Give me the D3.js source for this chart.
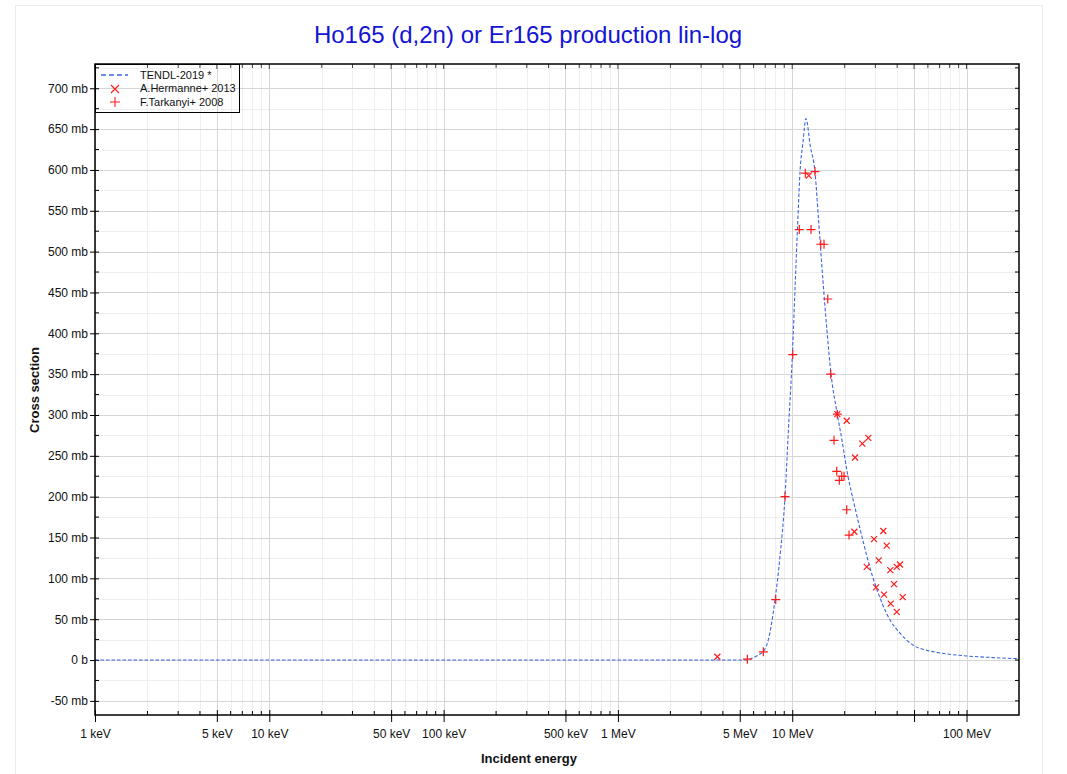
<!DOCTYPE html>
<html>
<head>
<meta charset="utf-8">
<script src="https://cdn.jsdelivr.net/npm/d3@7/dist/d3.min.js"></script>
<style>
  body { margin: 0; background: #fff; }
  svg { display: block; font-family: "Liberation Sans", Arial, sans-serif; }
</style>
</head>
<body>
<svg id="chart" width="1067" height="774"></svg>
<script>
// ---- Data (energies in MeV, cross sections in mb) ----
const tendlE  = [0.001, 1, 5.3, 5.6, 6.0, 6.5, 6.8, 7.3, 7.97, 8.5, 9.09, 9.5, 10.0, 10.4, 10.8, 11.1, 11.5, 12.0, 12.7, 13.5, 14.2, 15.0, 15.8, 16.7, 18.1, 19.3, 20.6, 23.0, 25.4, 28.0, 30.3, 33.0, 36.4, 41.5, 49.5, 59, 74, 100, 142, 200];
const tendlXS = [0, 0, 0, 0.5, 3, 7, 10, 25, 74, 126, 200, 280, 370, 460, 545, 600, 632, 663, 629, 598, 535, 465, 405, 350, 302, 269, 232, 185, 147, 112, 89, 68, 49, 33, 18, 12, 8, 5, 3, 1.5];

const hermE  = [3.72, 12.44, 18.15, 20.54, 25.25, 27.33, 22.93, 22.72, 33.31, 29.47, 34.84, 31.35, 26.76, 41.55, 39.77, 36.54, 38.37, 30.26, 33.62, 43.05, 36.73, 39.77];
const hermXS = [4, 593, 301, 293, 265, 272, 248, 157, 158, 148, 140, 122, 114, 117, 114, 110, 93, 89, 80, 77, 69, 59];

const tarkE  = [5.53, 6.83, 8.04, 9.09, 10.07, 10.98, 11.89, 13.51, 12.82, 14.57, 15.22, 15.99, 16.63, 18.15, 17.37, 18.0, 19.23, 19.83, 18.63, 20.54, 21.18];
const tarkXS = [1, 10, 74, 200, 374, 527, 596, 598, 527, 509, 509, 442, 350, 301, 269, 231, 225, 225, 220, 184, 153];

const xTickValues = [0.001, 0.005, 0.01, 0.05, 0.1, 0.5, 1, 5, 10, 50, 100];
const xTickLabels = ["1 keV", "5 keV", "10 keV", "50 keV", "100 keV", "500 keV", "1 MeV", "5 MeV", "10 MeV", "", "100 MeV"];
const yTickValues = [-50, 0, 50, 100, 150, 200, 250, 300, 350, 400, 450, 500, 550, 600, 650, 700];
const yTickLabels = ["-50 mb", "0 b", "50 mb", "100 mb", "150 mb", "200 mb", "250 mb", "300 mb", "350 mb", "400 mb", "450 mb", "500 mb", "550 mb", "600 mb", "650 mb", "700 mb"];
const legendLabels = ["TENDL-2019 *", "A.Hermanne+ 2013", "F.Tarkanyi+ 2008"];

const titleText = "Ho165 (d,2n) or Er165 production lin-log";

// ---- Layout ----
const L = 95, R = 1019, T = 64, B = 715;
const svg = d3.select("#chart");

const x = d3.scaleLog().domain([0.001, 200]).range([L, R]);
const y = d3.scaleLinear().domain([-67.3, 729.7]).range([B, T]);

// outer frame
svg.append("rect").attr("x", 15.5).attr("y", 5.5).attr("width", 1027).attr("height", 790)
  .attr("fill", "none").attr("stroke", "#ececec").attr("stroke-width", 1);

// minor values
const xMinor = [];
for (let p = -3; p <= 2; p++) {
  for (let m = 2; m <= 9; m++) {
    const v = m * Math.pow(10, p);
    if (v < 200 && m !== 5) xMinor.push(v);
  }
}
const yMinor = d3.range(-50, 730, 25).filter(v => v % 50 !== 0);

const grid = svg.append("g");
grid.selectAll(".xmin").data(xMinor).join("line")
  .attr("x1", d => Math.round(x(d)) + 0.5).attr("x2", d => Math.round(x(d)) + 0.5)
  .attr("y1", T).attr("y2", B).attr("stroke", "#efefef");
grid.selectAll(".ymin").data(yMinor).join("line")
  .attr("y1", d => Math.round(y(d)) + 0.5).attr("y2", d => Math.round(y(d)) + 0.5)
  .attr("x1", L).attr("x2", R).attr("stroke", "#efefef");
grid.selectAll(".xmaj").data(xTickValues).join("line")
  .attr("x1", d => Math.round(x(d)) + 0.5).attr("x2", d => Math.round(x(d)) + 0.5)
  .attr("y1", T).attr("y2", B).attr("stroke", "#d6d6d6");
grid.selectAll(".ymaj").data(yTickValues).join("line")
  .attr("y1", d => Math.round(y(d)) + 0.5).attr("y2", d => Math.round(y(d)) + 0.5)
  .attr("x1", L).attr("x2", R).attr("stroke", "#d6d6d6");

// axes
const bottomAxis = d3.axisBottom(x).tickValues(xTickValues)
  .tickFormat((d, i) => xTickLabels[i]).tickSizeInner(7).tickSizeOuter(0).tickPadding(5);
const gB = svg.append("g").attr("transform", `translate(0,${B})`).call(bottomAxis);
gB.select(".domain").remove();
gB.selectAll(".tick line").attr("y1", -5).attr("stroke", "#000");
gB.selectAll(".tick text").attr("font-size", 12).attr("fill", "#111").attr("dy", "0.9em");

const gBm = svg.append("g");
gBm.selectAll("line").data(xMinor).join("line")
  .attr("x1", d => x(d)).attr("x2", d => x(d)).attr("y1", B).attr("y2", B - 4).attr("stroke", "#000");
// top ticks
const gT = svg.append("g");
gT.selectAll(".a").data(xTickValues).join("line")
  .attr("x1", d => x(d)).attr("x2", d => x(d)).attr("y1", T).attr("y2", T + 5).attr("stroke", "#444");
gT.selectAll(".b").data(xMinor).join("line")
  .attr("x1", d => x(d)).attr("x2", d => x(d)).attr("y1", T).attr("y2", T + 4).attr("stroke", "#444");

const leftAxis = d3.axisLeft(y).tickValues(yTickValues)
  .tickFormat((d, i) => yTickLabels[i]).tickSizeInner(4).tickSizeOuter(0).tickPadding(3);
const gL = svg.append("g").attr("transform", `translate(${L},0)`).call(leftAxis);
gL.select(".domain").remove();
gL.selectAll(".tick line").attr("x2", 4).attr("x1", -5).attr("stroke", "#000");
gL.selectAll(".tick text").attr("font-size", 12).attr("fill", "#111");
const gLm = svg.append("g");
gLm.selectAll("line").data(yMinor).join("line")
  .attr("y1", d => y(d)).attr("y2", d => y(d)).attr("x1", L).attr("x2", L + 4).attr("stroke", "#000");
// right ticks
const gR = svg.append("g");
gR.selectAll(".a").data(yTickValues.concat(yMinor)).join("line")
  .attr("y1", d => y(d)).attr("y2", d => y(d)).attr("x1", R).attr("x2", R - 4).attr("stroke", "#000");

// TENDL curve
const line = d3.line().x((d, i) => x(tendlE[i])).y((d, i) => y(tendlXS[i])).curve(d3.curveMonotoneX);
svg.append("path").datum(tendlE).attr("d", line)
  .attr("fill", "none").attr("stroke", "#3a66e0").attr("stroke-width", 1.1)
  .attr("stroke-dasharray", "3.5,2");

// Hermanne x markers
const hm = svg.append("g").attr("stroke", "#ff1a1a").attr("stroke-width", 1.2);
hm.selectAll("path").data(hermE).join("path")
  .attr("d", (d, i) => {
    const cx = x(d), cy = y(hermXS[i]), s = 3;
    return `M${cx - s},${cy - s}L${cx + s},${cy + s}M${cx - s},${cy + s}L${cx + s},${cy - s}`;
  });
// Tarkanyi + markers
const tm = svg.append("g").attr("stroke", "#ff1a1a").attr("stroke-width", 1.2);
tm.selectAll("path").data(tarkE).join("path")
  .attr("d", (d, i) => {
    const cx = x(d), cy = y(tarkXS[i]), s = 4.5;
    return `M${cx - s},${cy}L${cx + s},${cy}M${cx},${cy - s}L${cx},${cy + s}`;
  });

// plot frame
svg.append("rect").attr("x", L).attr("y", T).attr("width", R - L).attr("height", B - T)
  .attr("fill", "none").attr("stroke", "#000").attr("stroke-width", 1.5);

// legend
const lg = svg.append("g");
lg.append("rect").attr("x", 95.5).attr("y", 64.5).attr("width", 144).attr("height", 48)
  .attr("fill", "none").attr("stroke", "#000").attr("stroke-width", 1);
lg.append("line").attr("x1", 101).attr("x2", 128).attr("y1", 75).attr("y2", 75)
  .attr("stroke", "#3a66e0").attr("stroke-width", 1.5).attr("stroke-dasharray", "5,3");
lg.append("path").attr("d", "M111,85L119,93M111,93L119,85").attr("stroke", "#ff1a1a").attr("stroke-width", 1.1);
lg.append("path").attr("d", "M110,102L120,102M115,97L115,107").attr("stroke", "#ff1a1a").attr("stroke-width", 1.1);
lg.selectAll("text").data(legendLabels).join("text")
  .attr("x", 140).attr("y", (d, i) => 75 + i * 13.5).attr("dy", "0.35em")
  .attr("font-size", 11).attr("fill", "#111").text(d => d);

// title & labels
svg.append("text").attr("x", 528).attr("y", 43).attr("text-anchor", "middle")
  .attr("font-size", 24).attr("fill", "#1414d2").text(titleText);
svg.append("text").attr("x", 529).attr("y", 763).attr("text-anchor", "middle")
  .attr("font-size", 13).attr("font-weight", "bold").attr("fill", "#111").text("Incident energy");
svg.append("text").attr("transform", "translate(39,390) rotate(-90)").attr("text-anchor", "middle")
  .attr("font-size", 13).attr("font-weight", "bold").attr("fill", "#111").text("Cross section");
</script>
</body>
</html>
